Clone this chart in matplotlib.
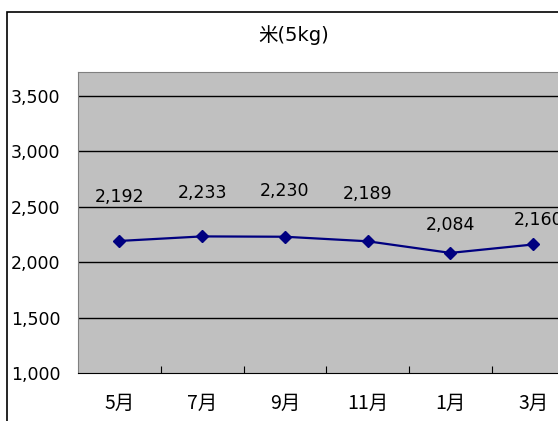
# 米(5kg) price chart
import matplotlib
matplotlib.use('Agg')
import matplotlib.pyplot as plt
from matplotlib.patches import Rectangle

plt.rcParams['font.family'] = ['DejaVu Sans', 'Noto Sans CJK JP']

# Data
months = ['5月', '7月', '9月', '11月', '1月', '3月']
prices = [2192, 2233, 2230, 2189, 2084, 2160]
yticks = [1000, 1500, 2000, 2500, 3000, 3500]

# label placement (pixels above / right of each point), as set by hand in the original
label_dy = [44, 43, 46, 47, 28, 24]
label_dx = [0, 0, 0, 0, 0, 5]

fig = plt.figure(figsize=(5.58, 4.21), dpi=100)

# outer chart frame (runs off the right and bottom edge)
fig.patches.append(Rectangle((7 / 558, -0.1), 1.2, 1 - 12 / 421 + 0.1,
                             transform=fig.transFigure, fill=False,
                             edgecolor='black', linewidth=1.2))

ax = fig.add_axes([78 / 558, 48 / 421, 496.5 / 558, 301 / 421])
ax.set_facecolor('#c0c0c0')

x = list(range(len(months)))
ax.plot(x, prices, color='#000080', linewidth=1.6, marker='D',
        markersize=6.5, markerfacecolor='#000080', markeredgecolor='#000080',
        zorder=3)

for xi, p, dy, dx in zip(x, prices, label_dy, label_dx):
    ax.annotate(f'{p:,}', (xi, p), xytext=(dx * 0.72, dy * 0.72),
                textcoords='offset points', ha='center', va='center',
                fontsize=12.5)

ax.set_ylim(1000, 3717)
ax.set_xlim(-0.5, len(months) - 0.5)

ax.set_yticks(yticks)
ax.set_yticklabels([f'{v:,}' for v in yticks], fontsize=12.5)
ax.tick_params(axis='y', length=0, pad=12.5)
for v in yticks[1:]:
    ax.axhline(v, color='black', linewidth=1, zorder=1)

# category boundaries carry the tick marks, labels sit in the middle
ax.set_xticks([i + 0.5 for i in range(len(months) - 1)])
ax.set_xticklabels([])
ax.tick_params(axis='x', which='major', direction='in', length=5,
               color='black')
ax.set_xticks(x, minor=True)
ax.set_xticklabels(months, minor=True, fontsize=14, family='Noto Sans CJK JP')
ax.tick_params(axis='x', which='minor', length=0, pad=14)

for side in ['left', 'bottom', 'top', 'right']:
    ax.spines[side].set_color('#808080')
ax.spines['bottom'].set_color('black')

fig.text(294 / 558, 1 - 35 / 421, '米(5kg)', ha='center', va='center',
         fontsize=14)

fig.savefig('out.png', dpi=100)
